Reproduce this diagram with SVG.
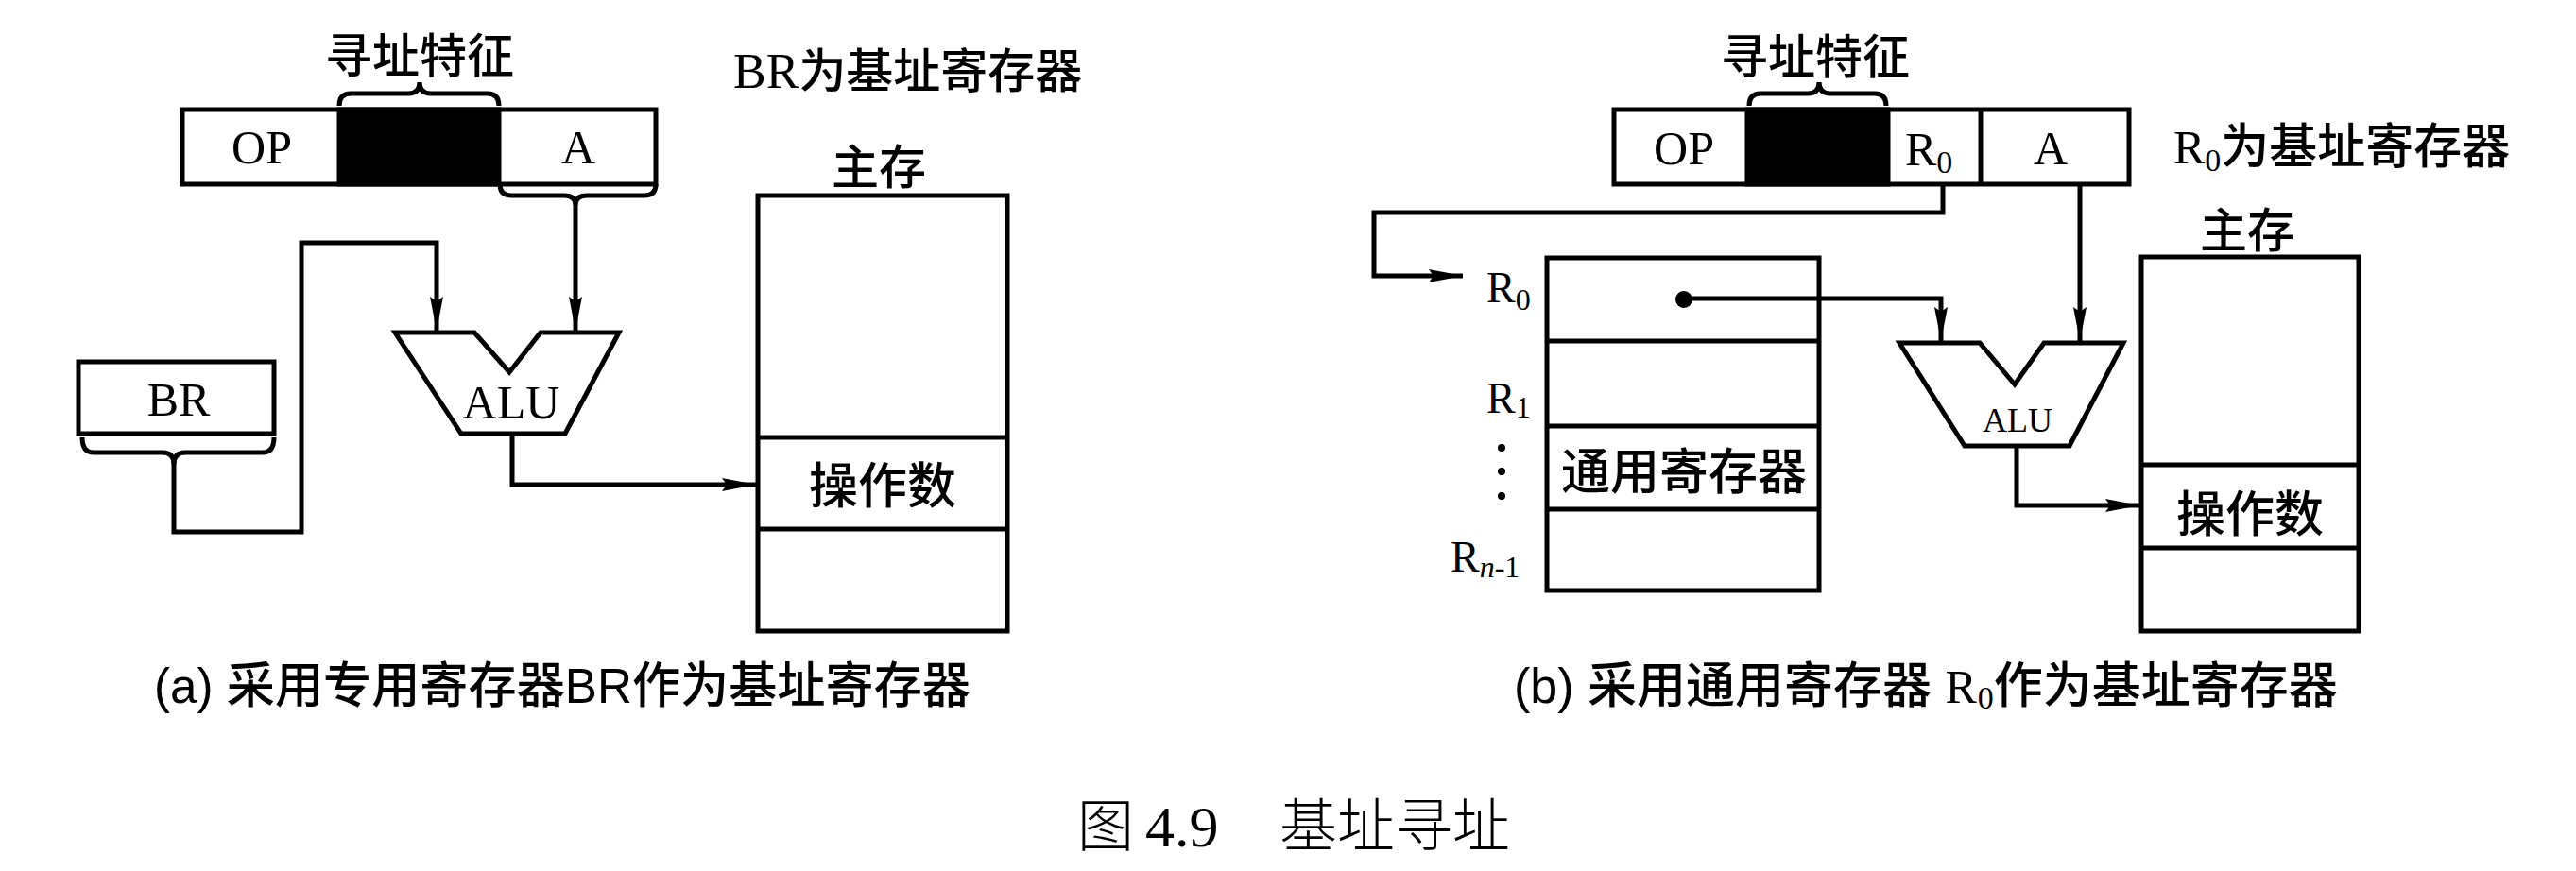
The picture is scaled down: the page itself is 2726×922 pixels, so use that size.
<svg xmlns="http://www.w3.org/2000/svg" width="2726" height="922" viewBox="0 0 2726 922">
<style>
.ln{fill:none;stroke:#000;stroke-width:5;stroke-linejoin:miter}
.bx{fill:#fff;stroke:#000;stroke-width:5}
.blk{fill:#000;stroke:#000;stroke-width:5}
.cjk{font-family:"Noto Sans CJK SC","Liberation Sans",sans-serif;font-weight:500;fill:#000}
.ser{font-family:"Liberation Serif","Noto Sans CJK SC",serif;fill:#000}
.cap{font-family:"Liberation Sans","Noto Sans CJK SC",sans-serif;font-weight:500;fill:#000}
.ttl{font-family:"Noto Sans CJK SC",sans-serif;font-weight:300;fill:#000}
</style>
<defs>
<marker id="arr" markerUnits="userSpaceOnUse" markerWidth="38" markerHeight="16" refX="36" refY="7" orient="auto">
<path d="M0,0 L36,7 L0,14 L5,7 z" fill="#000"/>
</marker>
</defs>
<rect width="2726" height="922" fill="#fff"/>

<!-- ===== (a) ===== -->
<g id="instr-a">
<rect class="bx" x="193" y="116" width="501" height="79"/>
<rect class="blk" x="359" y="116" width="169" height="79"/>
<text class="ser" x="277" y="173" font-size="50" text-anchor="middle">OP</text>
<text class="ser" x="612" y="173" font-size="50" text-anchor="middle">A</text>
</g>
<g id="feature-a">
<path class="ln" d="M359,112 Q359,99 371,99 L432,99 Q444,99 444,87 Q444,99 456,99 L516,99 Q528,99 528,112"/>
<text class="cjk" x="444" y="55" font-size="50" text-anchor="middle" dominant-baseline="central">寻址特征</text>
</g>
<g id="label-br-base">
<text x="776" y="93"><tspan class="ser" font-size="52">BR</tspan><tspan class="cjk" font-size="50">为基址寄存器</tspan></text>
</g>
<g id="br">
<rect class="bx" x="83" y="383" width="207" height="76"/>
<text class="ser" x="189" y="440" font-size="50" text-anchor="middle">BR</text>
</g>
<g id="alu-a">
<path class="bx" d="M418,352 L502,352 L539,394 L572,352 L655,352 L598,459 L488,459 Z"/>
<text class="ser" x="541" y="443" font-size="50" text-anchor="middle">ALU</text>
</g>
<g id="mem-a">
<text class="cjk" x="930" y="173" font-size="50" text-anchor="middle" dominant-baseline="central">主存</text>
<rect class="bx" x="802" y="207" width="264" height="461"/>
<line class="ln" x1="802" y1="463" x2="1066" y2="463"/>
<line class="ln" x1="802" y1="560" x2="1066" y2="560"/>
<text class="cjk" x="934" y="510" font-size="52" text-anchor="middle" dominant-baseline="central">操作数</text>
</g>
<g id="caption-a">
<text class="cap" x="163" y="744" font-size="52" textLength="864" lengthAdjust="spacingAndGlyphs">(a) 采用专用寄存器BR作为基址寄存器</text>
</g>

<!-- ===== (b) ===== -->
<g id="instr-b">
<rect class="bx" x="1708" y="116" width="545" height="79"/>
<rect class="blk" x="1849" y="116" width="149" height="79"/>
<line class="ln" x1="2096" y1="116" x2="2096" y2="195"/>
<text class="ser" x="1782" y="174" font-size="50" text-anchor="middle">OP</text>
<text class="ser" x="2016" y="175" font-size="50">R<tspan font-size="34" dy="8">0</tspan></text>
<text class="ser" x="2170" y="174" font-size="50" text-anchor="middle">A</text>
</g>
<g id="feature-b">
<path class="ln" d="M1851,112 Q1851,99 1863,99 L1913,99 Q1925,99 1925,87 Q1925,99 1937,99 L1984,99 Q1996,99 1996,112"/>
<text class="cjk" x="1921" y="56" font-size="50" text-anchor="middle" dominant-baseline="central">寻址特征</text>
</g>
<g id="label-r0-base">
<text x="2300" y="173"><tspan class="ser" font-size="50">R</tspan><tspan class="ser" font-size="34" dy="8">0</tspan><tspan class="cjk" font-size="51" dy="-8">为基址寄存器</tspan></text>
</g>
<g id="regs">
<rect class="bx" x="1637" y="273" width="288" height="352"/>
<line class="ln" x1="1637" y1="361" x2="1925" y2="361"/>
<line class="ln" x1="1637" y1="451" x2="1925" y2="451"/>
<line class="ln" x1="1637" y1="539" x2="1925" y2="539"/>
<text class="cjk" x="1782" y="495" font-size="52" text-anchor="middle" dominant-baseline="central">通用寄存器</text>
<circle cx="1782" cy="317" r="9" fill="#000"/>
<text class="ser" x="1573" y="320" font-size="46">R<tspan font-size="32" dy="8">0</tspan></text>
<text class="ser" x="1573" y="437" font-size="46">R<tspan font-size="32" dy="5">1</tspan></text>
<circle cx="1589" cy="474" r="4" fill="#000"/>
<circle cx="1589" cy="499" r="4" fill="#000"/>
<circle cx="1589" cy="525" r="4" fill="#000"/>
<text class="ser" x="1535" y="605" font-size="46">R<tspan font-size="32" dy="6"><tspan font-style="italic">n</tspan>-1</tspan></text>
</g>
<g id="alu-b">
<path class="bx" d="M2010,363 L2095,363 L2132,407 L2163,363 L2247,363 L2190,472 L2079,472 Z"/>
<text class="ser" x="2135" y="457" font-size="36" text-anchor="middle">ALU</text>
</g>
<g id="mem-b">
<text class="cjk" x="2378" y="240" font-size="50" text-anchor="middle" dominant-baseline="central">主存</text>
<rect class="bx" x="2266" y="272" width="230" height="396"/>
<line class="ln" x1="2266" y1="492" x2="2496" y2="492"/>
<line class="ln" x1="2266" y1="580" x2="2496" y2="580"/>
<text class="cjk" x="2381" y="540" font-size="52" text-anchor="middle" dominant-baseline="central">操作数</text>
</g>
<g id="caption-b">
<text class="cap" x="1602" y="744" font-size="52">(b) 采用通用寄存器 <tspan class="ser" font-size="50">R</tspan><tspan class="ser" font-size="34" dy="6" dx="1">0</tspan><tspan dy="-6">作为基址寄存器</tspan></text>
</g>

<g id="title">
<text class="ttl" x="1140" y="896" font-size="60">图</text>
<text class="ser" x="1212" y="896" font-size="62">4.9</text>
<text class="ttl" x="1354" y="896" font-size="61">基址寻址</text>
</g>

<!-- ===== connectors ===== -->
<g id="connectors">
<path class="ln" d="M529,195 Q529,207 541,207 L597,207 Q609,207 609,217 Q609,207 621,207 L682,207 Q694,207 694,195"/>
<path class="ln" d="M609,214 L609,350" marker-end="url(#arr)"/>
<path class="ln" d="M87,463 Q87,479 99,479 L172,479 Q184,479 184,491 Q184,479 196,479 L278,479 Q290,479 290,463"/>
<path class="ln" d="M184,488 L184,563 L319,563 L319,257 L462,257 L462,350" marker-end="url(#arr)"/>
<path class="ln" d="M542,459 L542,513 L800,513" marker-end="url(#arr)"/>
<path class="ln" d="M2056,195 L2056,225 L1454,225 L1454,292 L1548,292" marker-end="url(#arr)"/>
<path class="ln" d="M1782,316 L2054,316 L2054,361" marker-end="url(#arr)"/>
<path class="ln" d="M2201,195 L2201,361" marker-end="url(#arr)"/>
<path class="ln" d="M2134,472 L2134,535 L2264,535" marker-end="url(#arr)"/>
</g>
</svg>
